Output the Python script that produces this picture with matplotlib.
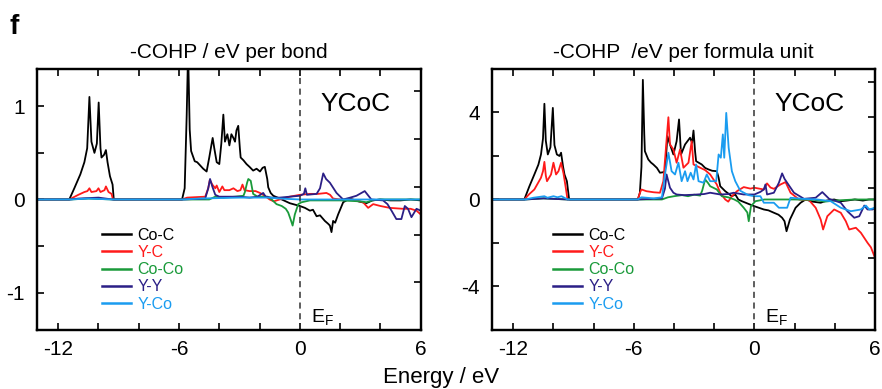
import matplotlib
matplotlib.use("Agg")
import matplotlib.pyplot as plt

plt.rcParams['font.family'] = ['Liberation Sans', 'DejaVu Sans']
plt.rcParams['axes.unicode_minus'] = False
plt.rcParams['mathtext.fontset'] = 'custom'
plt.rcParams['mathtext.rm'] = 'Liberation Sans'

# ---- data: -COHP per bond (left panel) ----
e_coc_b = [-13, -11.45, -11.2, -10.9, -10.7, -10.56, -10.45, -10.35, -10.2, -10.08, -9.99, -9.9, -9.85, -9.72,
           -9.63, -9.55, -9.43, -9.3, -9.24, -5.85, -5.72, -5.62, -5.55, -5.47, -5.4, -5.22, -5.1, -4.97, -4.8,
           -4.63, -4.5, -4.38, -4.33, -4.25, -4.13, -4.0, -3.9, -3.8, -3.72, -3.6, -3.5, -3.4, -3.3, -3.22, -3.15,
           -3.06, -2.98, -2.94, -2.8, -2.65, -2.5, -2.32, -2.15, -1.98, -1.85, -1.74, -1.62, -1.57, -1.45, -1.32,
           -1.0, -0.5, 0, 0.25, 0.5, 0.65, 0.83, 1.0, 1.24, 1.4, 1.49, 1.57, 1.65, 1.75, 1.9, 2.15, 2.48, 2.9,
           3.3, 3.6, 3.97, 4.5, 5.0, 5.5, 6]
coc_b = [0, 0, 0.12, 0.27, 0.40, 0.55, 1.10, 0.62, 0.50, 0.60, 1.04, 0.55, 0.45, 0.48,
         0.53, 0.40, 0.25, 0.16, 0.0, 0, 0.12, 0.9, 1.6, 0.75, 0.52, 0.41, 0.40, 0.37, 0.33,
         0.30, 0.45, 0.60, 0.66, 0.55, 0.40, 0.38, 0.60, 0.91, 0.62, 0.70, 0.58, 0.70, 0.66, 0.62, 0.74,
         0.79, 0.55, 0.45, 0.42, 0.38, 0.35, 0.31, 0.33, 0.30, 0.34, 0.35, 0.22, 0.13, 0.07, 0.04,
         0.01, -0.04, -0.07, -0.09, -0.12, -0.11, -0.18, -0.17, -0.23, -0.26, -0.28, -0.35, -0.23, -0.25,
         -0.16, -0.03, 0.01, -0.02, -0.04, -0.01, 0.0, -0.01, -0.01, 0.0, -0.01]

e_yc_b = [-13, -11.45, -11.0, -10.7, -10.55, -10.45, -10.35, -10.1, -10.0, -9.9, -9.7, -9.63, -9.5, -9.35,
          -9.28, -5.85, -5.6, -4.7, -4.55, -4.47, -4.35, -4.2, -4.13, -4.0, -3.85, -3.75, -3.5, -3.3, -3.1,
          -2.95, -2.85, -2.75, -2.5, -2.2, -1.98, -1.75, -1.5, -1.3, -1.0, -0.5, 0, 0.5, 0.9, 1.32, 1.5, 1.65,
          2.0, 2.6, 3.14, 3.39, 3.64, 4.0, 4.46, 5.12, 5.5, 5.79, 6]
yc_b = [0, 0, 0.05, 0.08, 0.09, 0.12, 0.08, 0.09, 0.12, 0.08, 0.10, 0.14, 0.08, 0.06,
        0.0, 0, 0.02, 0.03, 0.12, 0.21, 0.16, 0.12, 0.15, 0.08, 0.14, 0.10, 0.10, 0.12, 0.09,
        0.10, 0.16, 0.10, 0.09, 0.09, 0.07, 0.04, 0.0, -0.02, 0.0, 0.03, 0.05, 0.06, 0.06, 0.07, 0.05, 0.01,
        0.0, 0.0, -0.03, -0.09, -0.05, -0.07, -0.09, -0.10, -0.10, -0.12, -0.16]

e_coco_b = [-13, -11.4, -10.5, -9.3, -5.8, -4.5, -4.2, -3.8, -3.2, -2.8, -2.73, -2.62, -2.56, -2.44, -2.32,
            -2.1, -1.6, -1.4, -1.16, -0.9, -0.7, -0.58, -0.45, -0.36, -0.25, -0.08, 0.08, 0.5, 2.0, 3.0, 3.3,
            3.6, 4.0, 6]
coco_b = [0, 0, 0.01, 0.0, 0, 0.0, 0.03, 0.02, 0.03, 0.04, 0.08, 0.18, 0.22, 0.20, 0.06,
          0.03, 0.03, 0.0, -0.05, -0.07, -0.10, -0.14, -0.22, -0.28, -0.16, -0.05, -0.03, -0.01, -0.01, -0.02,
          -0.03, -0.01, 0.0, 0.0]

e_yy_b = [-13, -11.4, -11.0, -10.0, -9.3, -5.8, -4.7, -4.55, -4.46, -4.35, -4.2, -4.0, -3.5, -3.0, -2.5, -2.1,
          -1.9, -1.82, -1.7, -1.4, -1.0, -0.5, 0.0, 0.2, 0.27, 0.35, 0.83, 1.0, 1.16, 1.3, 1.49, 1.82, 2.15,
          2.5, 2.81, 3.22, 3.55, 4.13, 4.35, 4.55, 4.79, 5.04, 5.21, 5.37, 5.54, 5.79, 6]
yy_b = [0, 0, 0.01, 0.02, 0.0, 0.0, 0.01, 0.12, 0.22, 0.14, 0.05, 0.03, 0.03, 0.03, 0.02, 0.03,
        0.06, 0.07, 0.03, 0.02, 0.02, 0.03, 0.04, 0.06, 0.12, 0.05, 0.06, 0.12, 0.28, 0.22, 0.18, 0.07, 0.0,
        0.02, 0.04, 0.09, 0.0, -0.01, -0.05, -0.12, -0.21, -0.21, -0.07, -0.10, -0.19, -0.10, -0.12]

e_yco_b = [-13, -11.4, -10.5, -9.3, -5.8, -5.0, -3.0, -1.5, -1.0, 0, 6]
yco_b = [0, 0.0, 0.01, 0.0, 0, 0.01, 0.02, 0.02, 0.01, 0.0, 0.0]

# ---- data: -COHP per formula unit (right panel) ----
e_coc_f = [-13, -11.45, -11.2, -10.95, -10.75, -10.62, -10.52, -10.45, -10.38, -10.28, -10.15, -10.03, -9.95,
           -9.83, -9.7, -9.62, -9.52, -9.45, -9.33, -9.23, -9.2, -5.8, -5.7, -5.62, -5.55, -5.48, -5.45, -5.28,
           -5.15, -5.03, -4.85, -4.7, -4.55, -4.45, -4.38, -4.33, -4.2, -4.03, -3.87, -3.75, -3.65, -3.45, -3.2,
           -3.1, -3.03, -2.95, -2.9, -2.62, -2.45, -2.28, -2.1, -1.87, -1.78, -1.7, -1.45, -1.12, -0.95, -0.8,
           -0.62, -0.3, 0, 0.47, 0.7, 0.97, 1.2, 1.38, 1.5, 1.6, 1.77, 2.05, 2.3, 2.55, 2.9, 3.3, 3.6, 3.97,
           4.3, 4.6, 5.0, 5.4, 5.7, 6]
coc_f = [0, 0, 0.6, 1.15, 1.6, 2.07, 2.8, 4.4, 2.7, 2.07, 2.4, 4.21, 2.5,
         2.07, 2.0, 2.15, 1.5, 1.15, 0.84, 0.08, 0, 0, 0.3, 1.5, 5.5, 3.0, 2.22, 1.84,
         1.7, 1.61, 1.45, 1.23, 1.25, 1.30, 2.2, 2.91, 2.53, 2.07, 2.68, 3.68, 2.07, 2.53, 2.84,
         2.6, 3.17, 2.2, 1.76, 1.61, 1.45, 1.38, 1.32, 1.30, 1.0, 0.61, 0.38, 0.15, 0.23, 0.0,
         -0.08, -0.2, -0.31, -0.46, -0.5, -0.61, -0.7, -0.84, -1.0, -1.46, -0.92, -0.38, -0.15, 0.0, -0.1,
         -0.15, -0.05, 0.0, -0.08, -0.05, 0.0, -0.05, 0.0, 0.0]

e_yc_f = [-13, -11.45, -11.2, -10.95, -10.62, -10.52, -10.45, -10.38, -10.32, -10.12, -10.0, -9.87, -9.75,
          -9.62, -9.5, -9.38, -9.3, -5.8, -5.7, -5.62, -5.37, -5.0, -4.7, -4.53, -4.4, -4.28, -4.2, -4.03,
          -3.87, -3.7, -3.53, -3.28, -3.12, -3.03, -2.7, -2.45, -2.2, -1.87, -1.7, -1.45, -1.3, -1.12, -0.87,
          -0.53, -0.2, 0, 0.47, 0.63, 0.8, 0.97, 1.3, 1.55, 1.8, 2.22, 2.72, 3.05, 3.3, 3.42, 3.63, 3.97, 4.3,
          4.55, 4.72, 5.05, 5.3, 5.63, 5.8, 5.97]
yc_f = [0, 0, 0.25, 0.46, 1.0, 1.3, 1.73, 1.1, 0.84, 1.15, 1.69, 1.15, 1.3,
        1.69, 1.2, 0.5, 0.0, 0, 0.3, 0.46, 0.38, 0.33, 0.31, 0.84, 2.38, 3.78, 2.53, 2.3,
        1.69, 2.3, 1.46, 1.69, 2.68, 1.61, 1.46, 1.35, 1.15, 0.69, 0.31, 0.0, -0.1, 0.15, 0.38,
        0.57, 0.5, 0.54, 0.46, 0.74, 0.55, 0.49, 0.69, 0.8, 0.31, 0.0, -0.03, -0.38, -0.92, -1.38, -0.77,
        -0.46, -0.61, -1.0, -1.38, -1.3, -1.53, -1.99, -2.2, -2.6]

e_coco_f = [-13, -11.4, -10.5, -9.3, -5.8, -4.6, -4.3, -4.0, -3.6, -3.3, -3.0, -2.7, -2.6, -2.45, -2.3, -2.2,
            -1.87, -1.62, -1.3, -1.0, -0.8, -0.53, -0.35, -0.28, -0.17, 0.05, 0.5, 2.0, 3.0, 3.5, 4.0, 5.0, 6]
coco_f = [0, 0, 0.05, 0.0, 0, 0.0, 0.1, 0.15, 0.2, 0.15, 0.22, 0.18, 0.4, 0.92, 0.75, 0.61,
          0.46, 0.15, 0.1, 0.0, -0.1, -0.38, -0.6, -1.0, -0.31, -0.08, 0.0, 0.0, -0.02, -0.1, -0.05, 0.0, 0.0]

e_yy_f = [-13, -11.4, -10.5, -9.3, -5.8, -4.6, -4.45, -4.37, -4.2, -4.03, -3.87, -3.5, -3.0, -2.5, -2.2, -1.7,
          -1.3, -1.03, -0.53, 0, 0.3, 0.47, 0.55, 0.63, 0.97, 1.22, 1.38, 1.5, 1.63, 1.97, 2.47, 3.05, 3.38,
          3.72, 4.3, 4.63, 4.97, 5.22, 5.47, 5.63, 5.88, 6]
yy_f = [0, 0, 0.05, 0.0, 0, 0.05, 0.5, 1.15, 0.54, 0.31, 0.23, 0.2, 0.22, 0.25, 0.31, 0.23,
        0.25, 0.31, 0.23, 0.23, 0.35, 0.46, 0.69, 0.23, 0.31, 0.77, 1.2, 0.95, 0.77, 0.31, 0.03, 0.08, 0.34,
        0.03, -0.15, -0.54, -0.84, -0.77, -0.28, -0.46, -0.46, -0.38]

e_yco_f = [-13, -11.4, -11.0, -10.45, -10.3, -10.0, -9.8, -9.6, -9.3, -5.8, -5.62, -5.0, -4.6, -4.45, -4.28,
           -4.12, -3.95, -3.78, -3.62, -3.45, -3.33, -3.17, -3.03, -2.9, -2.78, -2.53, -2.37, -2.2, -1.9, -1.78,
           -1.67, -1.57, -1.5, -1.4, -1.28, -1.12, -0.95, -0.7, -0.3, 0, 0.3, 0.47, 0.97, 1.22, 1.63, 1.8,
           2.38, 3.13, 3.8, 4.3, 4.8, 5.3, 5.55, 5.72, 6]
yco_f = [0, 0, 0.08, 0.15, 0.08, 0.15, 0.1, 0.15, 0.0, 0, 0.1, 0.05, 0.1, 1.15, 2.15,
         1.3, 1.15, 1.69, 0.84, 1.3, 0.84, 1.23, 0.92, 1.61, 0.84, 0.77, 1.15, 0.84, 0.84, 2.07,
         1.92, 2.99, 1.92, 3.98, 2.38, 1.3, 0.84, 0.4, 0.2, 0.15, 0.15, -0.15, -0.15, -0.38, -0.38, 0.08,
         0.03, 0.0, -0.08, -0.38, -0.54, -0.46, -0.28, -0.46, -0.38]

labels = ['Co-C', 'Y-C', 'Co-Co', 'Y-Y', 'Y-Co']
colors = ['#000000', '#ff1a1a', '#1a9a3a', '#2b1f86', '#1a9cf0']

panels = [
    dict(series=[(e_coc_b, coc_b), (e_yc_b, yc_b), (e_coco_b, coco_b), (e_yy_b, yy_b), (e_yco_b, yco_b)],
         ylim=(-1.4, 1.4), yticks=[-1, -0.5, 0, 0.5, 1], ylabels=['-1', '', '0', '', '1'],
         rticks=[1.16, 0.65, 0.13, -0.38, -0.89],
         title='-COHP / eV per bond', pos=[0.042, 0.1517, 0.435, 0.671], leg_x=0.17),
    dict(series=[(e_coc_f, coc_f), (e_yc_f, yc_f), (e_coco_f, coco_f), (e_yy_f, yy_f), (e_yco_f, yco_f)],
         ylim=(-6, 6), yticks=[-4, -2, 0, 2, 4], ylabels=['-4', '', '0', '', '4'],
         rticks=[5.38, 3.77, 2.16, 0.55, -1.06, -2.67, -4.28],
         title='-COHP  /eV per formula unit', pos=[0.558, 0.1517, 0.434, 0.671], leg_x=0.16),
]

fig = plt.figure(figsize=(8.82, 3.89), dpi=100)

xticks = list(range(-12, 7, 2))
xlabels = [str(t) if t % 6 == 0 else '' for t in xticks]

for p in panels:
    ax = fig.add_axes(p['pos'])
    handles = []
    for (e, v), lab, c in zip(p['series'], labels, colors):
        h, = ax.plot(e, v, color=c, lw=1.3, label=lab)
        handles.append(h)
    ax.axvline(0, color='#333333', lw=1.1, ls=(0, (4, 3)))
    ax.set_xlim(-13.05, 6)
    ax.set_ylim(*p['ylim'])
    ax.set_xticks(xticks)
    ax.set_xticklabels(xlabels)
    ax.set_yticks(p['yticks'])
    ax.set_yticklabels(p['ylabels'])
    ax.tick_params(direction='in', length=5, width=1.2, labelsize=15, top=True, right=False)
    ax.tick_params(axis='x', pad=7)
    ax.tick_params(axis='y', pad=9)
    for s in ax.spines.values():
        s.set_linewidth(1.6)
    ax.set_title(p['title'], fontsize=15, pad=8)

    ax2 = ax.twinx()
    ax2.set_ylim(*p['ylim'])
    ax2.set_yticks(p['rticks'])
    ax2.set_yticklabels([])
    ax2.tick_params(direction='in', length=5, width=1.2)
    for s in ax2.spines.values():
        s.set_linewidth(1.6)

    ax.text(0.83, 0.866, 'YCoC', transform=ax.transAxes, fontsize=19, ha='center', va='center')
    ax.text(0.55, 0.05, r'$\mathrm{E_F}$', transform=ax.get_xaxis_transform(), fontsize=14,
            ha='left', va='center')

    leg = ax.legend(handles=handles, loc='upper left', bbox_to_anchor=(p['leg_x'], 0.392), frameon=False,
                    fontsize=11.5, handlelength=1.8, handletextpad=0.4, labelspacing=0.14,
                    borderpad=0, borderaxespad=0)
    for t, c in zip(leg.get_texts(), colors):
        t.set_color(c)
    for l in leg.get_lines():
        l.set_linewidth(1.8)

fig.text(0.5, 1 - 378 / 389, 'Energy / eV', fontsize=16, ha='center', va='center')
fig.text(0.011, 1 - 27 / 389, 'f', fontsize=20, fontweight='bold', ha='left', va='center')

fig.savefig('out.png', dpi=100)
